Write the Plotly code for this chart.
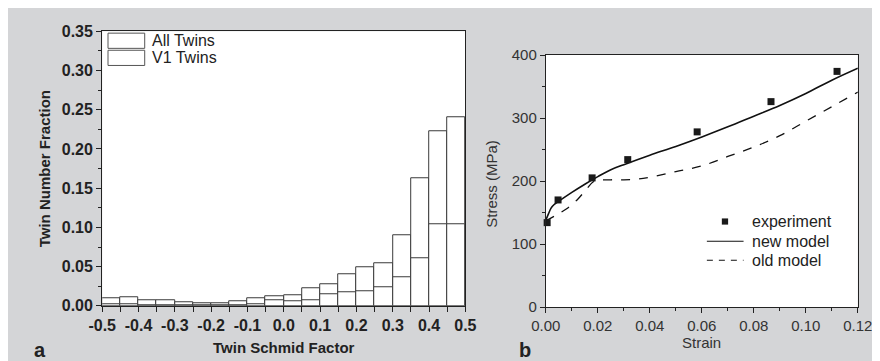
import plotly.graph_objects as go

# ---------------- data ----------------
bin_centers = [-0.475, -0.425, -0.375, -0.325, -0.275, -0.225, -0.175, -0.125, -0.075, -0.025,
               0.025, 0.075, 0.125, 0.175, 0.225, 0.275, 0.325, 0.375, 0.425, 0.475]
all_twins = [0.0097, 0.011, 0.0077, 0.0069, 0.0040, 0.0037, 0.0037, 0.0056, 0.0093, 0.0125,
             0.014, 0.023, 0.028, 0.040, 0.049, 0.054, 0.090, 0.163, 0.222, 0.240]
v1_twins = [0.0024, 0.0016, 0.0010, 0.0006, 0.0010, 0.0010, 0.0010, 0.0010, 0.0020, 0.0068,
            0.0055, 0.0075, 0.0145, 0.017, 0.0185, 0.024, 0.037, 0.061, 0.104, 0.104]
hist_xticks = [-0.5, -0.4, -0.3, -0.2, -0.1, 0.0, 0.1, 0.2, 0.3, 0.4, 0.5]

exp_strain = [0.0005, 0.0047, 0.0178, 0.0315, 0.0582, 0.0866, 0.112]
exp_stress = [134, 170, 205, 234, 278, 326, 374]

new_strain = [0.0, 0.001, 0.002, 0.003, 0.005, 0.01, 0.015, 0.02, 0.025, 0.03, 0.04, 0.05,
              0.06, 0.07, 0.08, 0.09, 0.10, 0.11, 0.12]
new_stress = [138, 148, 157, 162, 168, 182, 195, 207, 218, 226, 241, 255,
              270, 286, 303, 320, 339, 360, 379]

old_strain = [0.0, 0.004, 0.008, 0.012, 0.016, 0.018, 0.02, 0.025, 0.03, 0.035, 0.04, 0.05,
              0.06, 0.07, 0.08, 0.09, 0.10, 0.11, 0.12]
old_stress = [137, 146, 156, 170, 189, 198, 201, 202, 202, 203, 206, 215,
              224, 239, 254, 272, 295, 318, 341]

# ---------------- figure ----------------
W, H = 880, 361
BG = "#d4d5d7"
FONT = "Liberation Sans, Arial, sans-serif"


def px(x):
    return x / W


def py(y):
    return 1 - y / H


fig = go.Figure()

fig.add_trace(go.Bar(x=bin_centers, y=all_twins, width=0.05, name="All Twins",
                     marker=dict(color="white", line=dict(color="#3a3a3a", width=1)),
                     xaxis="x", yaxis="y", showlegend=False))
fig.add_trace(go.Bar(x=bin_centers, y=v1_twins, width=0.05, name="V1 Twins",
                     marker=dict(color="white", line=dict(color="#3a3a3a", width=1)),
                     xaxis="x", yaxis="y", showlegend=False))

fig.add_trace(go.Scatter(x=old_strain, y=old_stress, mode="lines", name="old model",
                         line=dict(color="#111", width=1.3, dash="dash", shape="spline"),
                         xaxis="x2", yaxis="y2", showlegend=False))
fig.add_trace(go.Scatter(x=new_strain, y=new_stress, mode="lines", name="new model",
                         line=dict(color="#111", width=1.6, shape="spline"),
                         xaxis="x2", yaxis="y2", showlegend=False))
fig.add_trace(go.Scatter(x=exp_strain, y=exp_stress, mode="markers", name="experiment",
                         marker=dict(symbol="square", size=7, color="#1a1a1a"),
                         xaxis="x2", yaxis="y2", showlegend=False, cliponaxis=False))

axis_common = dict(showgrid=False, zeroline=False, showline=True, linecolor="#222",
                   linewidth=1.2, mirror=True, ticks="outside", tickcolor="#222")

fig.update_layout(
    width=W, height=H,
    margin=dict(l=0, r=0, t=0, b=0),
    paper_bgcolor=BG, plot_bgcolor="white",
    barmode="overlay", bargap=0,
    showlegend=False,
    xaxis=dict(domain=[px(82), px(458)], range=[-0.5, 0.5], tickvals=hist_xticks,
               ticktext=[f"{v:.1f}" for v in hist_xticks], ticklen=5,
               minor=dict(dtick=0.05, tick0=0, ticklen=5, ticks="outside", tickcolor="#222"),
               tickfont=dict(family=FONT, size=16, color="#222", weight="bold"),
               anchor="y", **axis_common),
    yaxis=dict(domain=[py(304), py(15)], range=[0, 0.35], dtick=0.05, tickformat=".2f",
               ticklen=5,
               minor=dict(dtick=0.025, ticklen=3, ticks="outside", tickcolor="#222"),
               tickfont=dict(family=FONT, size=16, color="#222", weight="bold"),
               anchor="x", **axis_common),
    xaxis2=dict(domain=[px(541.3), px(864.3)], range=[0, 0.12], dtick=0.02, tickformat=".2f",
                ticklen=5,
                minor=dict(dtick=0.01, ticklen=3, ticks="outside", tickcolor="#222"),
                tickfont=dict(family=FONT, size=15, color="#333"),
                anchor="y2", **axis_common),
    yaxis2=dict(domain=[py(305.3), py(40)], range=[0, 400], dtick=100, ticklen=5,
                minor=dict(dtick=50, ticklen=3, ticks="outside", tickcolor="#222"),
                tickfont=dict(family=FONT, size=15, color="#333"),
                anchor="x2", **axis_common),
)

shapes = []
annotations = []

# left legend (boxes)
for (y0, y1, label) in [(17, 33, "All Twins"), (35, 51, "V1 Twins")]:
    shapes.append(dict(type="rect", xref="paper", yref="paper",
                       x0=px(88), x1=px(126), y0=py(y1), y1=py(y0),
                       line=dict(color="#555", width=1), fillcolor="white"))
    annotations.append(dict(xref="paper", yref="paper", x=px(131), y=py((y0 + y1) / 2),
                            text=label, showarrow=False, xanchor="left", yanchor="middle",
                            font=dict(family=FONT, size=16, color="#222")))

# right legend
shapes.append(dict(type="rect", xref="paper", yref="paper",
                   x0=px(723.5), x1=px(730), y0=py(218.5), y1=py(212),
                   line=dict(width=0), fillcolor="#1a1a1a"))
shapes.append(dict(type="line", xref="paper", yref="paper",
                   x0=px(708), x1=px(746), y0=py(236), y1=py(236),
                   line=dict(color="#111", width=1.2)))
shapes.append(dict(type="line", xref="paper", yref="paper",
                   x0=px(708), x1=px(746), y0=py(256), y1=py(256),
                   line=dict(color="#111", width=1.2, dash="6px,6px")))
for yy, label in [(215, "experiment"), (236, "new model"), (256, "old model")]:
    annotations.append(dict(xref="paper", yref="paper", x=px(753), y=py(yy), text=label,
                            showarrow=False, xanchor="left", yanchor="middle",
                            font=dict(family=FONT, size=16, color="#222")))

# axis titles
annotations += [
    dict(xref="paper", yref="paper", x=px(22), y=py(160), text="<b>Twin Number Fraction</b>",
         textangle=-90, showarrow=False, xanchor="center", yanchor="middle",
         font=dict(family=FONT, size=15, color="#222")),
    dict(xref="paper", yref="paper", x=px(270), y=py(348), text="<b>Twin Schmid Factor</b>",
         showarrow=False, xanchor="center", yanchor="middle",
         font=dict(family=FONT, size=15, color="#222")),
    dict(xref="paper", yref="paper", x=px(485), y=py(175), text="Stress (MPa)",
         textangle=-90, showarrow=False, xanchor="center", yanchor="middle",
         font=dict(family=FONT, size=15, color="#333")),
    dict(xref="paper", yref="paper", x=px(702), y=py(343), text="Strain",
         showarrow=False, xanchor="center", yanchor="middle",
         font=dict(family=FONT, size=15, color="#333")),
    dict(xref="paper", yref="paper", x=px(18), y=py(351), text="<b>a</b>",
         showarrow=False, xanchor="center", yanchor="middle",
         font=dict(family=FONT, size=20, color="#222")),
    dict(xref="paper", yref="paper", x=px(520), y=py(350), text="<b>b</b>",
         showarrow=False, xanchor="center", yanchor="middle",
         font=dict(family=FONT, size=20, color="#222")),
]

fig.update_layout(shapes=shapes, annotations=annotations)

fig.write_html("out.html")
